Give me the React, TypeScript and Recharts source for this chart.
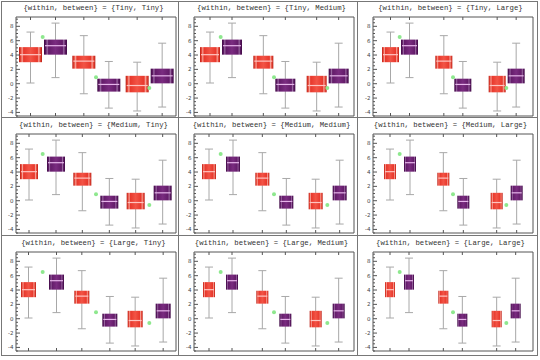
import { ComposedChart, Bar, Scatter, XAxis, YAxis, ReferenceArea } from 'recharts'

// three groups, each with a red and a purple box
const groups = ['g1', 'g2', 'g3']

const redMin = [0.1, -1.4, -3.8]
const redQ1 = [3.0, 2.1, -1.2]
const redMed = [4.05, 3.15, -0.25]
const redQ3 = [5.1, 3.9, 1.1]
const redMax = [7.2, 6.7, 3.0]

const purpleMin = [0.85, -3.4, -3.25]
const purpleQ1 = [4.05, -1.1, 0.05]
const purpleMed = [5.3, -0.1, 1.1]
const purpleQ3 = [6.15, 0.7, 2.1]
const purpleMax = [8.45, 3.1, 5.65]

// green markers at group centres
const dotValues = [6.5, 0.9, -0.6]

const yMajor = [-4, -2, 0, 2, 4, 6, 8]
const spacingNames = ['Tiny', 'Medium', 'Large']

// layout: [barCategoryGap, barGap] in px, rows = within, cols = between
const SPACING = [
  [[3, 2], [6, 2], [9, 2]],
  [[4, 9], [8, 10], [11, 8]],
  [[5, 13], [9, 11], [12, 9]],
]

const DOMAIN: [number, number] = [-4.5, 9.3]
const CELL_W = 179
const CELL_H = 117
const COL_X = [0, 178, 357]
const ROW_Y = [0, 117, 235]
const FRAME = '#555'

const yTicks: number[] = []
for (let v = -4.5; v <= 9; v += 0.5) yTicks.push(v)

const rows = groups.map((g, i) => ({
  group: g,
  red: [redMin[i], redMax[i]],
  purple: [purpleMin[i], purpleMax[i]],
  redBox: [redQ1[i], redMed[i], redQ3[i]],
  purpleBox: [purpleQ1[i], purpleMed[i], purpleQ3[i]],
  dot: dotValues[i],
}))

function makeBox(range: 'red' | 'purple', gradId: string, medColor: string) {
  return (props: any) => {
    const { x, y, width, height, payload } = props
    const [lo, hi] = payload[range]
    const [q1, med, q3] = payload[range + 'Box']
    const top = Math.min(y, y + height)
    const bot = Math.max(y, y + height)
    const px = (v: number) => top + ((hi - v) / (hi - lo)) * (bot - top)
    const cx = x + width / 2
    const yb = px(DOMAIN[0])
    const yt = px(DOMAIN[1])
    return (
      <g>
        <line x1={cx} x2={cx} y1={px(hi)} y2={px(lo)} stroke="#a8a8a8" />
        <line x1={cx - 4} x2={cx + 4} y1={px(hi)} y2={px(hi)} stroke="#a8a8a8" />
        <line x1={cx - 4} x2={cx + 4} y1={px(lo)} y2={px(lo)} stroke="#a8a8a8" />
        <rect x={x} y={px(q3)} width={width} height={px(q1) - px(q3)} fill={`url(#${gradId})`} />
        <line x1={x + 1} x2={x + width - 1} y1={px(med)} y2={px(med)} stroke={medColor} strokeWidth={1.2} />
        <line x1={cx} x2={cx} y1={yb} y2={yb - 3} stroke={FRAME} />
        <line x1={cx} x2={cx} y1={yt} y2={yt + 3} stroke={FRAME} />
      </g>
    )
  }
}

const LeftTick = (props: any) => {
  const { x, y, payload } = props
  const v = payload.value
  const ax = x + 2.5
  const major = Math.abs(v / 2 - Math.round(v / 2)) < 1e-6
  return (
    <g>
      <line x1={ax} x2={ax + (major ? 4 : 2)} y1={y} y2={y} stroke={FRAME} />
      {major && (
        <text x={x} y={y} dy={2} textAnchor="end" fontSize={5.5} fill="#444" fontFamily="DejaVu Sans">
          {v}
        </text>
      )}
    </g>
  )
}

const RightTick = (props: any) => {
  const { x, y, payload } = props
  const v = payload.value
  const major = Math.abs(v / 2 - Math.round(v / 2)) < 1e-6
  return <line x1={x} x2={x - (major ? 4 : 2)} y1={y} y2={y} stroke={FRAME} />
}

const Dot = (props: any) => <circle cx={props.cx} cy={props.cy} r={2} fill="#8ee88e" />

function Panel({ r, c }: { r: number; c: number }) {
  const [catGap, barGap] = SPACING[r][c]
  const id = `p${r}${c}`
  return (
    <div style={{ position: 'absolute', left: COL_X[c], top: ROW_Y[r], width: CELL_W, height: CELL_H }}>
      <ComposedChart
        width={CELL_W}
        height={CELL_H}
        data={rows}
        margin={{ top: 17, right: 3, bottom: 1, left: 0 }}
        barCategoryGap={catGap}
        barGap={barGap}
      >
        <defs>
          <linearGradient id={`${id}red`} x1="0" y1="0" x2="1" y2="0">
            <stop offset="0" stopColor="#b81a12" />
            <stop offset="0.08" stopColor="#e84a3a" />
            <stop offset="0.14" stopColor="#f6a096" />
            <stop offset="0.2" stopColor="#e8382c" />
            <stop offset="0.5" stopColor="#f25446" />
            <stop offset="0.8" stopColor="#e8382c" />
            <stop offset="0.86" stopColor="#f6a096" />
            <stop offset="0.92" stopColor="#e84a3a" />
            <stop offset="1" stopColor="#b81a12" />
          </linearGradient>
          <linearGradient id={`${id}purple`} x1="0" y1="0" x2="1" y2="0">
            <stop offset="0" stopColor="#3e0844" />
            <stop offset="0.08" stopColor="#5c1a62" />
            <stop offset="0.14" stopColor="#9a6aa2" />
            <stop offset="0.2" stopColor="#641c6a" />
            <stop offset="0.5" stopColor="#7a2c80" />
            <stop offset="0.8" stopColor="#641c6a" />
            <stop offset="0.86" stopColor="#9a6aa2" />
            <stop offset="0.92" stopColor="#5c1a62" />
            <stop offset="1" stopColor="#3e0844" />
          </linearGradient>
        </defs>
        <XAxis xAxisId="b" dataKey="group" type="category" hide />
        <YAxis
          yAxisId="l"
          width={16}
          domain={DOMAIN}
          allowDataOverflow
          ticks={yTicks}
          interval={0}
          axisLine={false}
          tickLine={false}
          tickSize={0}
          tickMargin={2.5}
          tick={<LeftTick />}
        />
        <YAxis
          yAxisId="r"
          orientation="right"
          width={0}
          domain={DOMAIN}
          allowDataOverflow
          ticks={yTicks}
          interval={0}
          axisLine={false}
          tickLine={false}
          tickSize={0}
          tickMargin={0}
          tick={<RightTick />}
        />
        <ReferenceArea xAxisId="b" yAxisId="l" y1={DOMAIN[0]} y2={DOMAIN[1]} fill="none" stroke={FRAME} strokeWidth={1} ifOverflow="visible" />
        <Bar xAxisId="b" yAxisId="l" dataKey="red" isAnimationActive={false} shape={makeBox('red', `${id}red`, '#ffc4c0')} />
        <Bar xAxisId="b" yAxisId="l" dataKey="purple" isAnimationActive={false} shape={makeBox('purple', `${id}purple`, '#e6b4ea')} />
        <Scatter xAxisId="b" yAxisId="l" dataKey="dot" isAnimationActive={false} shape={<Dot />} />
      </ComposedChart>
      <div
        style={{
          position: 'absolute',
          left: 0,
          top: 3,
          width: 187,
          textAlign: 'center',
          fontFamily: '"Liberation Mono", monospace',
          fontSize: 7.3,
          lineHeight: '10px',
          color: '#333',
          whiteSpace: 'nowrap',
        }}
      >
        {`{within, between} = {${spacingNames[r]}, ${spacingNames[c]}}`}
      </div>
    </div>
  )
}

export default function App() {
  const lines = [
    { left: 1, top: 1, width: 537, height: 1 },
    { left: 1, top: 355, width: 537, height: 1 },
    { left: 1, top: 1, width: 1, height: 355 },
    { left: 537, top: 1, width: 1, height: 355 },
    { left: 178, top: 1, width: 1, height: 355 },
    { left: 357, top: 1, width: 1, height: 355 },
    { left: 1, top: 117, width: 537, height: 1 },
    { left: 1, top: 235, width: 537, height: 1 },
  ]
  return (
    <div style={{ position: 'absolute', left: 0, top: 0, width: 540, height: 360, background: '#fff', overflow: 'hidden' }}>
      {[0, 1, 2].map((r) => [0, 1, 2].map((c) => <Panel key={`${r}${c}`} r={r} c={c} />))}
      {lines.map((l, i) => (
        <div key={i} style={{ position: 'absolute', background: '#777', ...l }} />
      ))}
    </div>
  )
}
